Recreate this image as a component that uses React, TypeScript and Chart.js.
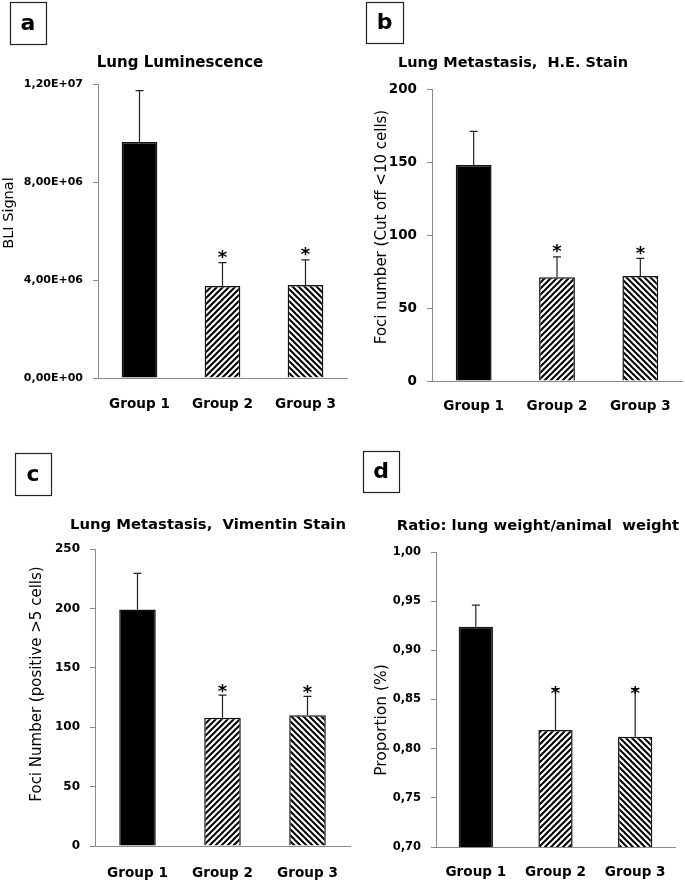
import React, { useEffect, useRef } from "react";
import { Chart, registerables } from "chart.js";

Chart.register(...registerables);

const FONT = "'DejaVu Sans', sans-serif";

// ---- data ----
const groups = ["Group 1", "Group 2", "Group 3"];
const significant = [false, true, true];

const lumMeans = [9.63e6, 3.76e6, 3.8e6];
const lumUpper = [11.73e6, 4.71e6, 4.82e6];
const lumTickLabels = ["0,00E+00", "4,00E+06", "8,00E+06", "1,20E+07"];

const heMeans = [148, 71, 72];
const heUpper = [171, 85, 84];
const heTickLabels = ["0", "50", "100", "150", "200"];

const vimMeans = [199, 108, 110];
const vimUpper = [229.5, 127, 126];
const vimTickLabels = ["0", "50", "100", "150", "200", "250"];

const ratioMeans = [0.924, 0.819, 0.812];
const ratioUpper = [0.946, 0.861, 0.861];
const ratioTickLabels = ["0,70", "0,75", "0,80", "0,85", "0,90", "0,95", "1,00"];

type Rect = { x: number; y: number; w: number; h: number };
type Area = { l: number; r: number; t: number; b: number };
type PanelCfg = {
  letter: string;
  title: string;
  yTitle: string;
  means: number[];
  upper: number[];
  tickLabels: string[];
  min: number;
  max: number;
  step: number;
  rect: Rect;
  area: Area;
  letterBox: Rect;
  titlePos: { x: number; y: number };
  titleSize: number;
  yTitlePos: { x: number; y: number };
  yTitleSize: number;
  tickSize: number;
  starGap: number;
  xPad: number;
};

const panels: PanelCfg[] = [
  {
    letter: "a",
    title: "Lung Luminescence",
    yTitle: "BLI Signal",
    means: lumMeans,
    upper: lumUpper,
    tickLabels: lumTickLabels,
    min: 0,
    max: 1.2e7,
    step: 4e6,
    rect: { x: 0, y: 0, w: 355, h: 425 },
    area: { l: 98, r: 347, t: 84, b: 378 },
    letterBox: { x: 10, y: 2, w: 36, h: 42 },
    titlePos: { x: 180, y: 67 },
    titleSize: 15,
    yTitlePos: { x: 9, y: 213 },
    yTitleSize: 14.5,
    tickSize: 11,
    starGap: 8,
    xPad: 18,
  },
  {
    letter: "b",
    title: "Lung Metastasis,  H.E. Stain",
    yTitle: "Foci number (Cut off <10 cells)",
    means: heMeans,
    upper: heUpper,
    tickLabels: heTickLabels,
    min: 0,
    max: 200,
    step: 50,
    rect: { x: 355, y: 0, w: 330, h: 425 },
    area: { l: 432, r: 682, t: 89, b: 381 },
    letterBox: { x: 366, y: 2, w: 37, h: 41 },
    titlePos: { x: 513, y: 67 },
    titleSize: 14.5,
    yTitlePos: { x: 382, y: 227 },
    yTitleSize: 15,
    tickSize: 13.5,
    starGap: 8,
    xPad: 17,
  },
  {
    letter: "c",
    title: "Lung Metastasis,  Vimentin Stain",
    yTitle: "Foci Number (positive >5 cells)",
    means: vimMeans,
    upper: vimUpper,
    tickLabels: vimTickLabels,
    min: 0,
    max: 250,
    step: 50,
    rect: { x: 0, y: 425, w: 355, h: 456 },
    area: { l: 95, r: 350, t: 549, b: 846 },
    letterBox: { x: 15, y: 453, w: 36, h: 42 },
    titlePos: { x: 208, y: 529 },
    titleSize: 14.8,
    yTitlePos: { x: 37, y: 684 },
    yTitleSize: 15,
    tickSize: 12,
    starGap: 7,
    xPad: 19,
  },
  {
    letter: "d",
    title: "Ratio: lung weight/animal  weight",
    yTitle: "Proportion (%)",
    means: ratioMeans,
    upper: ratioUpper,
    tickLabels: ratioTickLabels,
    min: 0.7,
    max: 1.0,
    step: 0.05,
    rect: { x: 355, y: 425, w: 330, h: 456 },
    area: { l: 436, r: 675, t: 552, b: 847 },
    letterBox: { x: 363, y: 451, w: 36, h: 41 },
    titlePos: { x: 538, y: 530 },
    titleSize: 14.8,
    yTitlePos: { x: 382, y: 720 },
    yTitleSize: 15.5,
    tickSize: 11.5,
    starGap: -2,
    xPad: 17,
  },
];

function makeHatch(ctx: CanvasRenderingContext2D, dir: number) {
  const s = 6;
  const c = document.createElement("canvas");
  c.width = s;
  c.height = s;
  const g = c.getContext("2d")!;
  g.fillStyle = "#fff";
  g.fillRect(0, 0, s, s);
  g.strokeStyle = "#000";
  g.lineWidth = 2;
  g.beginPath();
  if (dir > 0) {
    g.moveTo(-1, s + 1);
    g.lineTo(s + 1, -1);
    g.moveTo(-1, 1);
    g.lineTo(1, -1);
    g.moveTo(s - 1, s + 1);
    g.lineTo(s + 1, s - 1);
  } else {
    g.moveTo(-1, -1);
    g.lineTo(s + 1, s + 1);
    g.moveTo(s - 1, -1);
    g.lineTo(s + 1, 1);
    g.moveTo(-1, s - 1);
    g.lineTo(1, s + 1);
  }
  g.stroke();
  return ctx.createPattern(c, "repeat") as CanvasPattern;
}

const AXIS = "#8a8a8a";

function Panel({ cfg }: { cfg: PanelCfg }) {
  const ref = useRef<HTMLCanvasElement>(null);
  useEffect(() => {
    const canvas = ref.current!;
    const ctx2 = canvas.getContext("2d")!;
    const { rect, area } = cfg;
    const ox = rect.x;
    const oy = rect.y;

    const decor = {
      id: "decor" + cfg.letter,
      afterDatasetsDraw(chart: any) {
        const ctx = chart.ctx as CanvasRenderingContext2D;
        const xs = chart.scales.x;
        const ys = chart.scales.y;
        ctx.save();
        cfg.means.forEach((m, i) => {
          const x = xs.getPixelForValue(i);
          const y0 = ys.getPixelForValue(m);
          const y1 = ys.getPixelForValue(cfg.upper[i]);
          ctx.strokeStyle = "#222";
          ctx.lineWidth = 1.2;
          ctx.beginPath();
          ctx.moveTo(x, y0);
          ctx.lineTo(x, y1);
          ctx.moveTo(x - 4, y1);
          ctx.lineTo(x + 4, y1);
          ctx.stroke();
          if (significant[i]) {
            ctx.font = `bold 18px ${FONT}`;
            ctx.fillStyle = "#000";
            ctx.textAlign = "center";
            ctx.textBaseline = "alphabetic";
            const mt = ctx.measureText("*");
            const cy = y1 - cfg.starGap;
            const base =
              cy - (mt.actualBoundingBoxDescent - mt.actualBoundingBoxAscent) / 2;
            ctx.fillText("*", x, base);
          }
        });
        ctx.restore();
      },
      afterDraw(chart: any) {
        const ctx = chart.ctx as CanvasRenderingContext2D;
        ctx.save();
        // letter box
        const lb = cfg.letterBox;
        ctx.strokeStyle = "#222";
        ctx.lineWidth = 1.2;
        ctx.strokeRect(lb.x - ox + 0.5, lb.y - oy + 0.5, lb.w, lb.h);
        ctx.fillStyle = "#000";
        ctx.font = `bold 22px ${FONT}`;
        ctx.textAlign = "center";
        ctx.textBaseline = "middle";
        ctx.fillText(cfg.letter, lb.x - ox + lb.w / 2, lb.y - oy + lb.h / 2 + 1);
        // title
        ctx.font = `bold ${cfg.titleSize}px ${FONT}`;
        ctx.textBaseline = "alphabetic";
        ctx.fillText(cfg.title, cfg.titlePos.x - ox, cfg.titlePos.y - oy);
        // y title
        ctx.translate(cfg.yTitlePos.x - ox, cfg.yTitlePos.y - oy);
        ctx.rotate(-Math.PI / 2);
        ctx.font = `${cfg.yTitleSize}px ${FONT}`;
        ctx.textBaseline = "middle";
        ctx.fillText(cfg.yTitle, 0, 0);
        ctx.restore();
      },
    };

    const chart = new Chart(canvas, {
      type: "bar",
      data: {
        labels: groups,
        datasets: [
          {
            data: cfg.means,
            backgroundColor: ["#000", makeHatch(ctx2, 1), makeHatch(ctx2, -1)],
            borderColor: "#111",
            borderWidth: 1.5,
            barPercentage: 0.43,
            categoryPercentage: 1,
          },
        ],
      },
      options: {
        responsive: false,
        animation: false,
        devicePixelRatio: 1,
        layout: {
          padding: {
            left: 0,
            right: rect.x + rect.w - area.r,
            top: area.t - rect.y,
            bottom: 0,
          },
        },
        plugins: {
          legend: { display: false },
          tooltip: { enabled: false },
          title: { display: false },
        },
        scales: {
          x: {
            grid: { display: false, drawTicks: false },
            border: { display: true, color: AXIS, width: 1 },
            ticks: {
              color: "#000",
              font: { family: FONT, weight: "bold", size: 13.6 },
              padding: cfg.xPad,
              maxRotation: 0,
              autoSkip: false,
            },
            afterFit: (s: any) => {
              s.height = rect.y + rect.h - area.b;
              s.paddingLeft = 0;
              s.paddingRight = 0;
            },
          },
          y: {
            min: cfg.min,
            max: cfg.max,
            grid: {
              display: true,
              drawOnChartArea: false,
              drawTicks: true,
              tickLength: 5,
              color: AXIS,
            },
            border: { display: true, color: AXIS, width: 1 },
            ticks: {
              stepSize: cfg.step,
              color: "#000",
              font: { family: FONT, weight: "bold", size: cfg.tickSize },
              padding: 10,
              autoSkip: false,
              callback: (_v: any, i: number) => cfg.tickLabels[i] ?? "",
            },
            afterFit: (s: any) => {
              s.width = area.l - rect.x;
            },
          },
        },
      } as any,
      plugins: [decor],
    });
    return () => chart.destroy();
  }, [cfg]);
  return (
    <canvas
      ref={ref}
      width={cfg.rect.w}
      height={cfg.rect.h}
      style={{
        position: "absolute",
        left: cfg.rect.x,
        top: cfg.rect.y,
        width: cfg.rect.w,
        height: cfg.rect.h,
      }}
    />
  );
}

export default function App() {
  return (
    <div
      style={{
        position: "absolute",
        left: 0,
        top: 0,
        width: 685,
        height: 881,
        background: "#fff",
        overflow: "hidden",
      }}
    >
      {panels.map((p) => (
        <Panel key={p.letter} cfg={p} />
      ))}
    </div>
  );
}
